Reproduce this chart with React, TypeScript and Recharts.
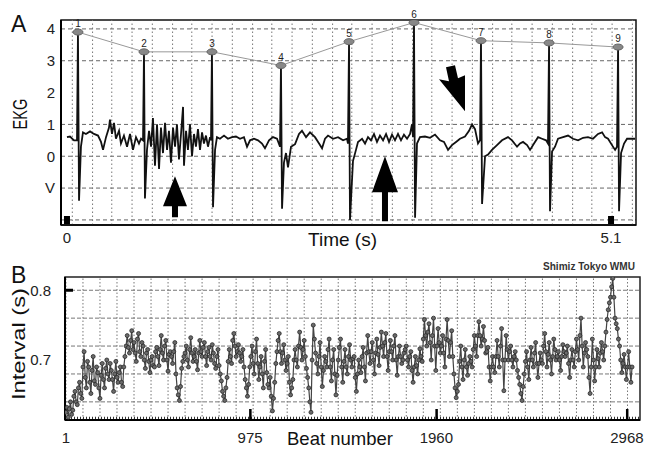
import React from "react";
import {
  CartesianGrid,
  ComposedChart,
  LabelList,
  Line,
  ReferenceArea,
  ReferenceDot,
  ReferenceLine,
  XAxis,
  YAxis,
} from "recharts";

// ---- panel A: EKG trace (time in s, amplitude) ----
const traceT = [
  0, 0.028, 0.066, 0.094, 0.103, 0.113, 0.131, 0.15, 0.178, 0.216, 0.253, 0.291, 0.319, 0.338, 0.366, 0.394,
  0.403, 0.422, 0.441, 0.459, 0.488, 0.506, 0.534, 0.563, 0.591, 0.619, 0.647, 0.675, 0.694, 0.713, 0.722, 0.731,
  0.75, 0.769, 0.788, 0.806, 0.825, 0.844, 0.863, 0.881, 0.9, 0.919, 0.938, 0.956, 0.975, 0.994, 1.013, 1.031,
  1.05, 1.069, 1.088, 1.097, 1.116, 1.134, 1.153, 1.172, 1.191, 1.209, 1.228, 1.247, 1.266, 1.284, 1.303, 1.322,
  1.341, 1.35, 1.359, 1.369, 1.388, 1.406, 1.434, 1.472, 1.509, 1.547, 1.584, 1.622, 1.659, 1.688, 1.716, 1.753,
  1.791, 1.828, 1.856, 1.894, 1.931, 1.969, 1.997, 2.006, 2.016, 2.034, 2.053, 2.072, 2.1, 2.138, 2.175, 2.203,
  2.241, 2.278, 2.325, 2.363, 2.391, 2.419, 2.447, 2.494, 2.541, 2.588, 2.625, 2.634, 2.644, 2.653, 2.681, 2.709,
  2.728, 2.766, 2.794, 2.822, 2.85, 2.878, 2.906, 2.934, 2.963, 2.991, 3.019, 3.047, 3.075, 3.103, 3.131, 3.159,
  3.188, 3.216, 3.234, 3.244, 3.253, 3.263, 3.281, 3.309, 3.356, 3.403, 3.45, 3.497, 3.534, 3.572, 3.609, 3.647,
  3.684, 3.731, 3.769, 3.797, 3.825, 3.853, 3.872, 3.881, 3.891, 3.919, 3.947, 3.984, 4.031, 4.078, 4.134, 4.172,
  4.219, 4.247, 4.275, 4.313, 4.341, 4.378, 4.416, 4.453, 4.491, 4.509, 4.519, 4.528, 4.547, 4.575, 4.603, 4.65,
  4.697, 4.744, 4.791, 4.838, 4.884, 4.931, 4.978, 5.016, 5.044, 5.072, 5.109, 5.138, 5.156, 5.166, 5.175, 5.194,
  5.222, 5.25, 5.288, 5.325,
];
const traceV = [
  0.6, 0.62, 0.5, 0.5, 3.9, -1.4, 0.3, 0.75, 0.7, 0.78, 0.7, 0.65, 0.45, 0.2, 0.6, 0.9,
  1.15, 0.7, 1.05, 0.55, 0.8, 0.4, 0.65, 0.3, 0.7, 0.2, 0.6, 0.4, 0.55, 0.5, 3.28, -1.33,
  0.2, 0.8, 0.3, 1.2, -0.3, 1.0, -0.4, 0.9, 0.1, 1.05, 0.2, 0.8, -0.2, 0.9, 0.3, 1.0,
  -0.1, 0.7, 1.55, -0.3, 0.8, 0.2, 1.0, 0.0, 0.7, 0.3, 0.85, 0.2, 0.75, 0.4, 0.65, 0.3,
  0.6, 0.5, 3.28, -1.6, 0.2, 0.6, 0.55, 0.65, 0.55, 0.6, 0.62, 0.55, 0.6, 0.3, 0.5, 0.55,
  0.5, 0.4, 0.25, 0.5, 0.6, 0.55, 0.3, 2.85, -1.65, -0.2, 0.1, -0.35, 0.3, 0.38, 0.7, 0.8,
  0.6, 0.75, 0.6, 0.4, 0.25, 0.55, 0.65, 0.55, 0.6, 0.5, 0.55, 0.4, 3.6, -2.0, -0.15, 0.2,
  0.45, 0.55, 0.4, 0.6, 0.5, 0.7, 0.45, 0.65, 0.5, 0.7, 0.45, 0.68, 0.5, 0.7, 0.5, 0.68,
  0.55, 0.7, 1.0, 0.6, 4.2, -1.93, 0.4, 0.6, 0.62, 0.58, 0.68, 0.5, 0.45, 0.2, 0.35, 0.45,
  0.55, 0.62, 0.8, 1.0, 0.85, 0.4, 0.5, 3.63, -1.5, 0.0, 0.05, 0.2, 0.35, 0.5, 0.6, 0.5,
  0.3, 0.4, 0.45, 0.35, 0.2, 0.4, 0.6, 0.55, 0.5, 0.4, 3.56, -1.73, 0.15, 0.3, 0.55, 0.6,
  0.65, 0.55, 0.5, 0.58, 0.6, 0.55, 0.7, 0.75, 0.6, 0.55, 0.35, 0.2, 0.3, 3.43, -1.73, 0.1,
  0.4, 0.55, 0.55, 0.55,
];

// R peaks, numbered 1..9
const peakNum = [1, 2, 3, 4, 5, 6, 7, 8, 9];
const peakT = [0.103, 0.722, 1.359, 2.006, 2.644, 3.253, 3.881, 4.519, 5.166];
const peakV = [3.9, 3.28, 3.28, 2.85, 3.6, 4.2, 3.63, 3.56, 3.43];

const ekgTicksX = [0, 5.1];
const ekgTicksY = [4, 3, 2, 1, 0, -1];
const ekgGridY = [4, 3, 1, 0, -1, -2];
const ekgGridX = [
  0.05, 0.24, 0.42, 0.61, 0.8, 0.99, 1.17, 1.36, 1.55, 1.74, 1.92, 2.11, 2.3, 2.49, 2.67,
  2.86, 3.05, 3.24, 3.42, 3.61, 3.8, 3.99, 4.17, 4.36, 4.55, 4.74, 4.92, 5.11, 5.3,
];

// arrow tips (time, amplitude)
const arrowT = [1.0125, 2.981, 3.731];
const arrowV = [-0.63, 0, 1.415];
const arrowKind = ["up", "upLong", "diag"];

// ---- panel B: beat-to-beat interval (s) ----
// read every 12 beats starting at beat 1, plus the in-between readings (beat 7, 19, ...)
const beatStep = 12;
const intervals = [
  0.625, 0.618, 0.64, 0.628, 0.655, 0.636, 0.668, 0.645, 0.712, 0.66,
  0.69, 0.652, 0.705, 0.665, 0.682, 0.645, 0.695, 0.66, 0.7, 0.672,
  0.685, 0.655, 0.698, 0.668, 0.69, 0.662, 0.705, 0.735, 0.71, 0.742,
  0.725, 0.698, 0.738, 0.705, 0.72, 0.688, 0.715, 0.682, 0.705, 0.69,
  0.718, 0.692, 0.735, 0.7, 0.728, 0.684, 0.712, 0.695, 0.725, 0.66,
  0.642, 0.688, 0.705, 0.72, 0.69, 0.732, 0.698, 0.715, 0.686, 0.728,
  0.705, 0.725, 0.692, 0.718, 0.7, 0.71, 0.688, 0.715, 0.68, 0.655,
  0.642, 0.675, 0.715, 0.695, 0.738, 0.705, 0.722, 0.698, 0.715, 0.672,
  0.648, 0.69, 0.72, 0.68, 0.73, 0.672, 0.705, 0.66, 0.715, 0.665,
  0.675, 0.627, 0.668, 0.712, 0.738, 0.695, 0.722, 0.685, 0.705, 0.65,
  0.672, 0.715, 0.69, 0.74, 0.7, 0.728, 0.688, 0.66, 0.625, 0.75,
  0.71, 0.68, 0.725, 0.662, 0.705, 0.69, 0.73, 0.67, 0.715, 0.65,
  0.7, 0.73, 0.668, 0.715, 0.68, 0.722, 0.69, 0.705, 0.655, 0.7,
  0.682, 0.718, 0.67, 0.735, 0.695, 0.725, 0.68, 0.73, 0.692, 0.74,
  0.705, 0.738, 0.685, 0.728, 0.7, 0.735, 0.678, 0.72, 0.695, 0.71,
  0.72, 0.69, 0.712, 0.668, 0.705, 0.68, 0.716, 0.698, 0.758, 0.72,
  0.752, 0.7, 0.76, 0.685, 0.745, 0.71, 0.735, 0.69, 0.758, 0.705,
  0.742, 0.68, 0.646, 0.665, 0.72, 0.672, 0.715, 0.678, 0.705, 0.69,
  0.735, 0.705, 0.755, 0.72, 0.748, 0.71, 0.718, 0.67, 0.705, 0.682,
  0.728, 0.69, 0.745, 0.656, 0.735, 0.7, 0.72, 0.69, 0.712, 0.685,
  0.665, 0.642, 0.68, 0.712, 0.672, 0.718, 0.69, 0.725, 0.675, 0.71,
  0.695, 0.738, 0.69, 0.725, 0.68, 0.73, 0.7, 0.712, 0.685, 0.722,
  0.705, 0.72, 0.675, 0.715, 0.69, 0.73, 0.7, 0.76, 0.69, 0.725,
  0.705, 0.652, 0.73, 0.67, 0.715, 0.69, 0.725, 0.7, 0.74, 0.772,
  0.79, 0.817, 0.76, 0.745, 0.72, 0.682, 0.708, 0.672, 0.712, 0.668,
];
const intervalsMid = [
  0.632, 0.63, 0.622, 0.648, 0.64, 0.66, 0.652, 0.69, 0.675, 0.698,
  0.668, 0.685, 0.67, 0.69, 0.66, 0.678, 0.672, 0.688, 0.68, 0.695,
  0.672, 0.68, 0.675, 0.682, 0.668, 0.69, 0.72, 0.718, 0.728, 0.715,
  0.71, 0.73, 0.712, 0.725, 0.7, 0.71, 0.698, 0.7, 0.692, 0.712,
  0.705, 0.715, 0.71, 0.72, 0.7, 0.708, 0.705, 0.712, 0.68, 0.65,
  0.662, 0.698, 0.71, 0.7, 0.715, 0.71, 0.705, 0.698, 0.71, 0.712,
  0.718, 0.705, 0.712, 0.705, 0.722, 0.695, 0.705, 0.692, 0.67, 0.648,
  0.66, 0.698, 0.705, 0.728, 0.72, 0.712, 0.71, 0.705, 0.69, 0.66,
  0.665, 0.705, 0.695, 0.712, 0.695, 0.69, 0.68, 0.698, 0.682, 0.66,
  0.648, 0.645, 0.695, 0.728, 0.712, 0.71, 0.7, 0.695, 0.668, 0.66,
  0.7, 0.7, 0.72, 0.718, 0.715, 0.705, 0.675, 0.64, 0.7, 0.73,
  0.695, 0.705, 0.69, 0.685, 0.698, 0.715, 0.69, 0.7, 0.68, 0.678,
  0.718, 0.69, 0.698, 0.69, 0.705, 0.7, 0.702, 0.675, 0.68, 0.69,
  0.705, 0.69, 0.71, 0.712, 0.712, 0.7, 0.71, 0.708, 0.718, 0.72,
  0.725, 0.705, 0.712, 0.712, 0.72, 0.7, 0.705, 0.705, 0.7, 0.715,
  0.7, 0.705, 0.685, 0.69, 0.692, 0.7, 0.705, 0.73, 0.735, 0.74,
  0.725, 0.735, 0.72, 0.72, 0.725, 0.72, 0.71, 0.73, 0.728, 0.725,
  0.705, 0.66, 0.655, 0.698, 0.69, 0.7, 0.69, 0.695, 0.698, 0.715,
  0.72, 0.735, 0.735, 0.73, 0.728, 0.712, 0.69, 0.69, 0.69, 0.705,
  0.705, 0.72, 0.7, 0.7, 0.715, 0.712, 0.7, 0.705, 0.7, 0.675,
  0.652, 0.662, 0.698, 0.69, 0.7, 0.7, 0.71, 0.695, 0.695, 0.7,
  0.72, 0.712, 0.708, 0.7, 0.705, 0.715, 0.705, 0.7, 0.705, 0.712,
  0.71, 0.695, 0.7, 0.7, 0.712, 0.715, 0.735, 0.72, 0.71, 0.715,
  0.675, 0.69, 0.7, 0.69, 0.702, 0.71, 0.712, 0.72, 0.758, 0.782,
  0.805, 0.79, 0.752, 0.73, 0.7, 0.695, 0.69, 0.69, 0.69, 0.69,
];
const beatTicks = [1, 975, 1960, 2968];
const intervalTicks = [0.8, 0.7];
const intervalGridY = [0.62, 0.64, 0.66, 0.68, 0.7, 0.72, 0.74, 0.76, 0.78, 0.8];
const beatGridX = [
  1, 91, 181, 271, 361, 451, 541, 631, 721, 811, 901, 991, 1081, 1171, 1261, 1351, 1441,
  1531, 1621, 1711, 1801, 1891, 1981, 2071, 2161, 2251, 2341, 2431, 2521, 2611, 2701, 2791,
  2881, 2971,
];

const FONT = "Arial, 'Liberation Sans', sans-serif";
const T_DOMAIN: [number, number] = [-0.056, 5.334];
const V_DOMAIN: [number, number] = [-2.16, 4.28];
const B_DOMAIN: [number, number] = [-4, 3037];
const I_DOMAIN: [number, number] = [0.614, 0.819];

const trace = traceT.map((t, i) => ({ t, v: traceV[i] }));
const peaks = peakT.map((t, i) => ({ t, v: peakV[i], n: peakNum[i] }));
const beats: { beat: number; iv: number }[] = [];
intervals.forEach((iv, i) => {
  beats.push({ beat: 1 + i * beatStep, iv });
  beats.push({ beat: 1 + i * beatStep + beatStep / 2, iv: intervalsMid[i] });
});

const ARROWS: Record<string, string> = {
  up: "0,0 12,30 3,30 3,41 -3,41 -3,30 -12,30",
  upLong: "0,0 13,36 3,36 3,65 -3,65 -3,36 -13,36",
  diag: "0,0 -26,-32 -16,-30 -19,-44 -10,-46 -7,-33 0,-36",
};

const PeakDot = (p: any) => (
  <ellipse key={`pd${p.index}`} cx={p.cx} cy={p.cy} rx={5} ry={3} fill="#888" stroke="#666" strokeWidth={1} />
);

const TimeTick = ({ x, y, payload }: any) => (
  <g>
    <rect x={x - 3} y={y - 9} width={6} height={8} fill="#000" />
    <text x={x} y={y + 18} textAnchor="middle" fontSize={15} fill="#222" fontFamily={FONT}>
      {payload.value}
    </text>
  </g>
);

const BeatTick = ({ x, y, payload }: any) => (
  <g>
    {payload.value !== 1 && <rect x={x - 1} y={y - 11} width={2.5} height={10} fill="#000" />}
    <text x={x} y={y + 23} textAnchor="middle" fontSize={15} fill="#222" fontFamily={FONT}>
      {payload.value}
    </text>
  </g>
);

const IntervalTick = ({ x, y, payload }: any) => (
  <g>
    {payload.value === 0.8 && <rect x={x + 1} y={y - 1.5} width={7} height={3} fill="#000" />}
    <text x={x - 14} y={y} dy="0.36em" textAnchor="end" fontSize={15} fill="#222" fontFamily={FONT}>
      {payload.value.toFixed(1)}
    </text>
  </g>
);

export default function App() {
  return (
    <div style={{ position: "absolute", left: 0, top: 0, width: 646, height: 450, background: "#fff", fontFamily: FONT }}>
      <div style={{ position: "absolute", left: 0, top: 0 }}>
        <ComposedChart width={646} height={260} margin={{ top: 20, right: 10, bottom: 0, left: 0 }}>
          <CartesianGrid vertical={false} horizontalValues={ekgGridY} stroke="#666" strokeDasharray="4 3" />
          <XAxis
            dataKey="t"
            type="number"
            domain={T_DOMAIN}
            allowDataOverflow
            ticks={ekgTicksX}
            height={35}
            tickLine={false}
            tickSize={0}
            tickMargin={0}
            axisLine={{ stroke: "#000", strokeWidth: 1.5 }}
            tick={<TimeTick />}
          />
          <YAxis
            type="number"
            domain={V_DOMAIN}
            allowDataOverflow
            ticks={ekgTicksY}
            width={61}
            tickLine={false}
            tickSize={0}
            tickMargin={6}
            axisLine={{ stroke: "#000", strokeWidth: 2 }}
            tick={{ fontSize: 15, fill: "#222", fontFamily: FONT }}
            tickFormatter={(v: number) => (v === -1 ? "V" : String(v))}
          />
          {ekgGridX.map((t) => (
            <ReferenceLine key={`gx${t}`} x={t} stroke="#777" strokeDasharray="1.5 2.5" />
          ))}
          <ReferenceArea
            x1={T_DOMAIN[0]}
            x2={T_DOMAIN[1]}
            y1={V_DOMAIN[0]}
            y2={V_DOMAIN[1]}
            ifOverflow="visible"
            fill="none"
            stroke="#111"
            strokeWidth={1.5}
          />
          <Line
            data={peaks}
            dataKey="v"
            type="linear"
            stroke="#999"
            strokeWidth={1}
            dot={PeakDot}
            isAnimationActive={false}
          >
            <LabelList dataKey="n" position="top" offset={5} fill="#222" fontSize={10} fontFamily={FONT} />
          </Line>
          <Line
            data={trace}
            dataKey="v"
            type="linear"
            stroke="#111"
            strokeWidth={1.8}
            dot={false}
            isAnimationActive={false}
          />
          {arrowT.map((t, i) => (
            <ReferenceDot
              key={`ar${i}`}
              x={t}
              y={arrowV[i]}
              ifOverflow="visible"
              shape={(p: any) => (
                <polygon points={ARROWS[arrowKind[i]]} transform={`translate(${p.cx},${p.cy})`} fill="#000" />
              )}
            />
          ))}
        </ComposedChart>
      </div>

      <div style={{ position: "absolute", left: 0, top: 250 }}>
        <ComposedChart width={646} height={200} data={beats} margin={{ top: 27, right: 6, bottom: 0, left: 0 }}>
          <CartesianGrid vertical={false} horizontalValues={intervalGridY} stroke="#777" strokeDasharray="4 2" />
          <XAxis
            dataKey="beat"
            type="number"
            domain={B_DOMAIN}
            allowDataOverflow
            ticks={beatTicks}
            height={30}
            tickLine={false}
            tickSize={0}
            tickMargin={0}
            axisLine={{ stroke: "#000", strokeWidth: 2 }}
            tick={<BeatTick />}
          />
          <YAxis
            type="number"
            domain={I_DOMAIN}
            allowDataOverflow
            ticks={intervalTicks}
            width={65}
            tickLine={false}
            tickSize={0}
            tickMargin={0}
            axisLine={{ stroke: "#000", strokeWidth: 2 }}
            tick={<IntervalTick />}
          />
          {beatGridX.map((b) => (
            <ReferenceLine key={`bx${b}`} x={b} stroke="#777" strokeDasharray="1.5 2" />
          ))}
          <ReferenceArea
            x1={B_DOMAIN[0]}
            x2={B_DOMAIN[1]}
            y1={I_DOMAIN[0]}
            y2={I_DOMAIN[1]}
            ifOverflow="visible"
            fill="none"
            stroke="#222"
            strokeWidth={1.5}
          />
          <ReferenceLine y={0.6165} stroke="#333" strokeWidth={3} strokeDasharray="1 2" ifOverflow="visible" />
          <Line
            dataKey="iv"
            type="linear"
            stroke="#444"
            strokeWidth={1.2}
            dot={{ r: 2, fill: "#6a6a6a", stroke: "#2a2a2a", strokeWidth: 0.8 }}
            isAnimationActive={false}
          />
        </ComposedChart>
      </div>

      <svg width={646} height={450} style={{ position: "absolute", left: 0, top: 0, pointerEvents: "none" }} fontFamily={FONT}>
        <text x={11} y={32} fontSize={23} fill="#111">A</text>
        <text x={11} y={283} fontSize={23} fill="#111">B</text>
        <text x={27} y={114} fontSize={20} fill="#111" textAnchor="middle" transform="rotate(-90 27 114)" textLength={31} lengthAdjust="spacingAndGlyphs">
          EKG
        </text>
        <text x={25} y={344} fontSize={19} fill="#111" textAnchor="middle" transform="rotate(-90 25 344)" textLength={112} lengthAdjust="spacingAndGlyphs">
          Interval (s)
        </text>
        <text x={308} y={246} fontSize={19} fill="#111" textLength={69} lengthAdjust="spacingAndGlyphs">
          Time (s)
        </text>
        <text x={287} y={445} fontSize={19} fill="#111" textLength={106} lengthAdjust="spacingAndGlyphs">
          Beat number
        </text>
        <text x={543} y={270} fontSize={10} fill="#333" fontWeight="bold" textLength={92} lengthAdjust="spacingAndGlyphs">
          Shimiz Tokyo WMU
        </text>
      </svg>
    </div>
  );
}
